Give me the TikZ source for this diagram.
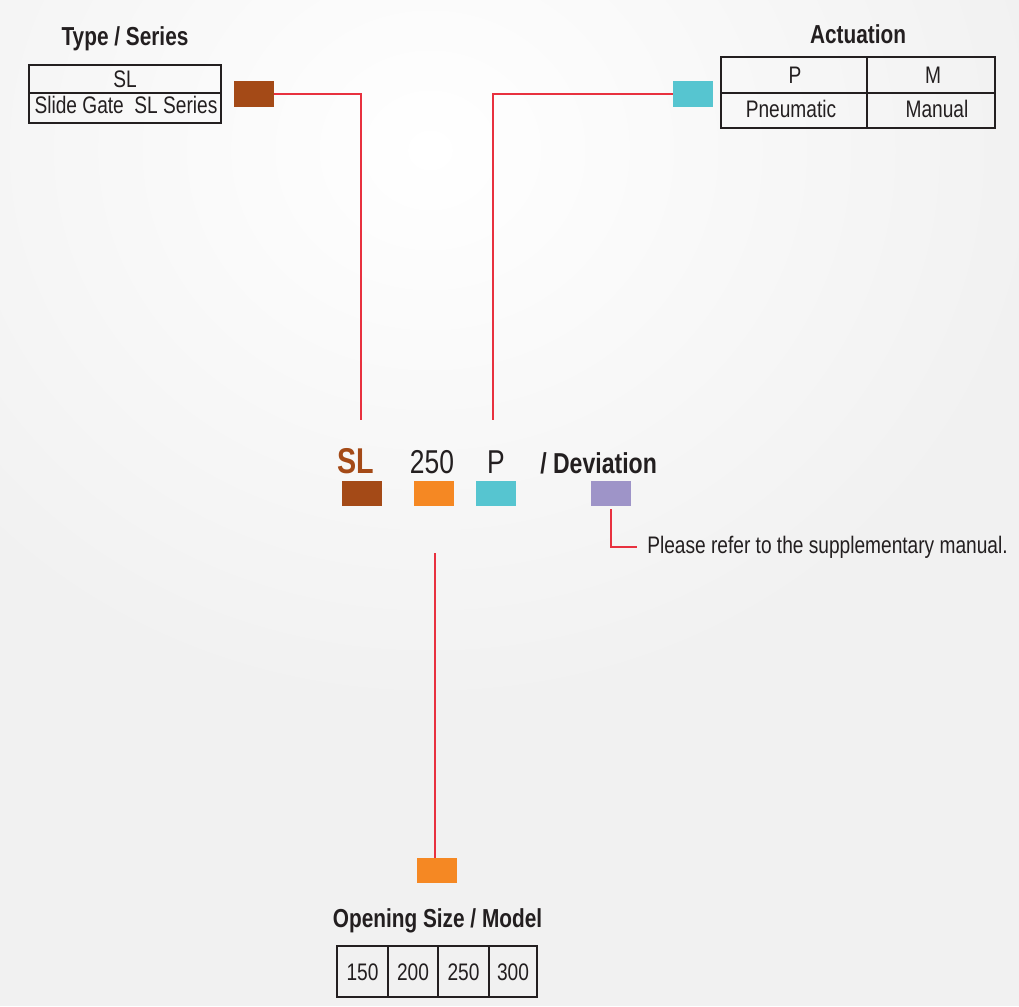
\documentclass[tikz,border=0pt]{standalone}
\usepackage{fontspec}
\setmainfont{Liberation Sans}
\newfontfamily\condfont[FakeStretch=0.8]{Liberation Sans}
\usetikzlibrary{positioning}

\definecolor{bg}{RGB}{241,241,241}
\definecolor{ink}{RGB}{35,31,32}
\definecolor{linkred}{RGB}{232,49,63}
\definecolor{brownkey}{RGB}{164,74,23}
\definecolor{orangekey}{RGB}{245,136,35}
\definecolor{tealkey}{RGB}{86,197,208}
\definecolor{purplekey}{RGB}{158,148,200}

\tikzset{
  key/.style={minimum width=1cm, minimum height=0.625cm, inner sep=0pt},
  link/.style={linkred, line width=1.1pt},
  cell/.style={ink, line width=1.2pt},
  title/.style={text=ink, anchor=base, inner sep=0pt, font=\condfont\bfseries\fontsize{18.5}{21}\selectfont},
  entry/.style={text=ink, anchor=base, inner sep=0pt, font=\condfont\fontsize{17}{20}\selectfont},
}

\begin{document}
\begin{tikzpicture}[x=0.025cm, y=-0.025cm]
  \useasboundingbox (0,0) rectangle (1019,1006);
  \fill[bg] (0,0) rectangle (1019,1006);
  \shade[inner color=white, outer color=bg] (430,150) ellipse (620 and 560);

  % type / series
  \node[title] (typetitle) at (125,45) {Type / Series};
  \draw[cell] (29,65) rectangle (221,123);
  \draw[cell] (29,93) -- (221,93);
  \node[entry] (typesl) at (125,87) {SL};
  \node[entry] (typename) at (126,113) {Slide Gate\ \ SL Series};
  \node[key, fill=brownkey] (typekey) at (254,94) {};

  % actuation
  \node[title] (acttitle) at (858,43) {Actuation};
  \draw[cell] (721,57) rectangle (995,128);
  \draw[cell] (721,93) -- (995,93);
  \draw[cell] (867,57) -- (867,128);
  \node[entry] (actp) at (795,83) {P};
  \node[entry] (actm) at (933,83) {M};
  \node[entry] (actpn) at (791,117) {Pneumatic};
  \node[entry] (actman) at (937,117) {Manual};
  \node[key, fill=tealkey] (actkey) at (693,94) {};

  % order code
  \node[anchor=base, inner sep=0pt, text=brownkey, font=\condfont\bfseries\fontsize{25.5}{29}\selectfont] (codesl) at (356,473) {SL};
  \node[anchor=base, inner sep=0pt, text=ink, font=\condfont\fontsize{23.5}{27}\selectfont] (codesize) at (432,473) {250};
  \node[anchor=base, inner sep=0pt, text=ink, font=\condfont\fontsize{23.5}{27}\selectfont] (codeact) at (496,473) {P};
  \node[anchor=base west, inner sep=0pt, text=ink, font=\condfont\bfseries\fontsize{20.5}{24}\selectfont] (codedev) at (540,473) {/ Deviation};
  \node[key, fill=brownkey] (slkey) at (362,493.5) {};
  \node[key, fill=orangekey] (sizekey) at (433.5,493.5) {};
  \node[key, fill=tealkey] (pkey) at (495.5,493.5) {};
  \node[key, fill=purplekey] (devkey) at (611,493.5) {};

  % opening size
  \node[key, fill=orangekey] (modelkey) at (437,870.5) {};
  \node[title] (modeltitle) at (437.5,927) {Opening Size / Model};
  \draw[cell] (337,946) rectangle (537,997);
  \foreach \x in {388,438,489}
    \draw[cell] (\x,946) -- (\x,997);
  \foreach \v/\x in {150/362.5,200/413,250/463.5,300/513}
    \node[entry] (size\v) at (\x,980) {\v};

  % deviation note
  \node[entry, anchor=base west] (note) at (647,553) {Please refer to the supplementary manual.};

  % connectors
  \coordinate (slend) at (361,420);
  \coordinate (pend) at (493,420);
  \coordinate (sizeend) at (435,553);
  \draw[link] (typekey.east) -| (slend);
  \draw[link] (actkey.west) -| (pend);
  \draw[link] (modelkey.north -| sizeend) -- (sizeend);
  \draw[link] ([yshift=-2pt]devkey.south) |- ([xshift=-7pt]note.west);
\end{tikzpicture}
\end{document}
